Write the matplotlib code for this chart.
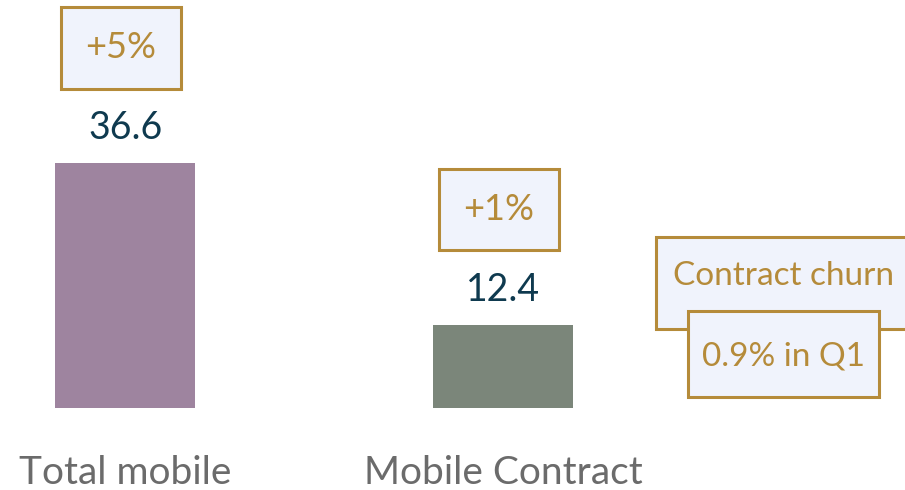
import matplotlib.pyplot as plt
from matplotlib.patches import Rectangle

# Data
categories = ["Total mobile", "Mobile Contract"]
values = [36.6, 12.4]
growth = ["+5%", "+1%"]
churn_title = "Contract churn"
churn_value = "0.9% in Q1"

# Styling
FONT = ["Lato", "DejaVu Sans"]
BAR_COLORS = ["#9e849f", "#7b867a"]
VALUE_COLOR = "#0f3a4f"
GOLD = "#b58b3a"
BOX_FILL = "#f0f3fc"
LABEL_COLOR = "#6b6b6b"
W, H = 905, 490

plt.rcParams["font.family"] = FONT

fig = plt.figure(figsize=(W / 100, H / 100), dpi=100)
ax = fig.add_axes([0, 82 / H, 1, 408 / H])

x = list(range(len(categories)))
ax.bar(x, values, width=0.37, color=BAR_COLORS)
ax.set_xlim(-0.331, 2.063)
ax.set_ylim(0, 61)

box_style = dict(boxstyle="square,pad=0.67", facecolor=BOX_FILL,
                 edgecolor=GOLD, linewidth=2.2)

for xi, v, g in zip(x, values, growth):
    ax.annotate(f"{v:.1f}", (xi, v), xytext=(0, 25), textcoords="offset points",
                ha="center", va="center", fontsize=27, color=VALUE_COLOR)
    ax.annotate(g, (xi, v), xytext=(-3, 83), textcoords="offset points",
                ha="center", va="center", fontsize=26, color=GOLD, bbox=box_style)

ax.set_xticks(x)
ax.set_xticklabels(categories, fontsize=28, color=LABEL_COLOR)
ax.tick_params(axis="x", length=0, pad=34)
ax.set_yticks([])
for s in ax.spines.values():
    s.set_visible(False)


def callout(left, top, right, bottom, label, text_y, z):
    # box given in pixels from top-left, like the slide it came from
    fig.patches.append(Rectangle((left / W, 1 - bottom / H), (right - left) / W,
                                 (bottom - top) / H, transform=fig.transFigure,
                                 facecolor=BOX_FILL, edgecolor=GOLD,
                                 linewidth=2.2, zorder=z))
    fig.text((left + right) / 2 / W if right < W else 783 / W, 1 - text_y / H,
             label, ha="center", va="center", fontsize=24, color=GOLD, zorder=z)


callout(656, 237, 920, 329, churn_title, 276, 3)
callout(688, 311, 879, 397, churn_value, 356, 4)

fig.savefig("out.png", dpi=100)
